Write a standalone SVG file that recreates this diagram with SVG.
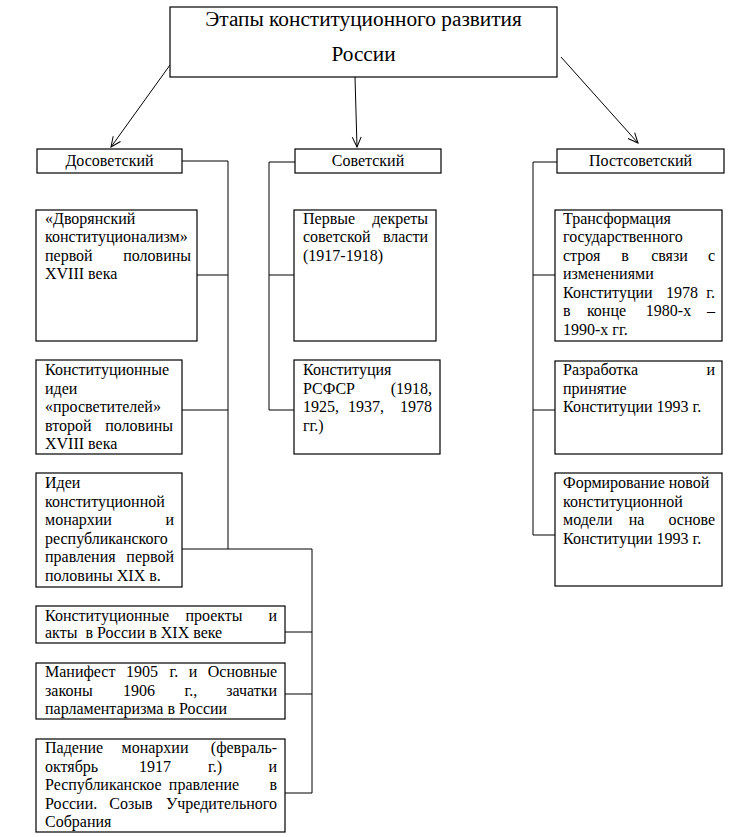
<svg xmlns="http://www.w3.org/2000/svg" width="733" height="837" viewBox="0 0 733 837">
<style>
.bx{fill:#fff;stroke:#000;stroke-width:1.2}
.ln{fill:none;stroke:#000;stroke-width:1}
.t{font-family:"Liberation Serif","Times New Roman",serif;font-size:16px;fill:#000}
.ti{font-family:"Liberation Serif","Times New Roman",serif;font-size:21.3px;fill:#000}
.m{text-anchor:middle}
.e{text-anchor:end}
</style>
<defs>
<marker id="ah" markerUnits="userSpaceOnUse" markerWidth="14" markerHeight="12" viewBox="-12 -6 14 12" refX="0" refY="0" orient="auto">
<path d="M-10,-4.5 L0,0 L-10,4.5" fill="none" stroke="#000" stroke-width="1"/>
</marker>
</defs>
<rect x="0" y="0" width="733" height="837" fill="#fff"/>
<g id="connectors">
<path class="ln" d="M170,65 L111,147" marker-end="url(#ah)"/>
<path class="ln" d="M355,77 L357,147" marker-end="url(#ah)"/>
<path class="ln" d="M561,57 L638,143" marker-end="url(#ah)"/>
<path class="ln" d="M182,161 H228 V549"/>
<path class="ln" d="M197,275 H228"/>
<path class="ln" d="M182,410 H228"/>
<path class="ln" d="M182,549 H312 V793"/>
<path class="ln" d="M285,632 H312"/>
<path class="ln" d="M285,694 H312"/>
<path class="ln" d="M285,793 H312"/>
<path class="ln" d="M295,162 H269 V410 H294"/>
<path class="ln" d="M269,275 H294"/>
<path class="ln" d="M557,162 H533 V535 H555"/>
<path class="ln" d="M533,275 H555"/>
<path class="ln" d="M533,410 H555"/>
</g>
<g id="title">
<rect class="bx" x="170" y="7" width="387" height="70"/>
<text class="ti m" x="363.5" y="26">Этапы конституционного развития</text>
<text class="ti m" x="363.5" y="61">России</text>
</g>
<g id="pre">
<rect class="bx" x="37" y="149" width="145" height="24"/>
<text class="t m" x="109.5" y="166">Досоветский</text>
</g>
<g id="sov">
<rect class="bx" x="295" y="149" width="146" height="24"/>
<text class="t m" x="368" y="166">Советский</text>
</g>
<g id="post">
<rect class="bx" x="557" y="149" width="167" height="24"/>
<text class="t m" x="640.5" y="166">Постсоветский</text>
</g>
<g id="b1">
<rect class="bx" x="36" y="210" width="161" height="131"/>
<text class="t" x="45" y="223.5">«Дворянский</text>
<text class="t" x="45" y="242">конституционализм»</text>
<text class="t" x="45" y="260.5">первой</text><text class="t e" x="191" y="260.5">половины</text>
<text class="t" x="45" y="279">XVIII века</text>
</g>
<g id="b2">
<rect class="bx" x="36" y="360" width="146" height="94"/>
<text class="t" x="45" y="375">Конституционные</text>
<text class="t" x="45" y="393.5">идеи</text>
<text class="t" x="45" y="412">«просветителей»</text>
<text class="t" x="45" y="430.5">второй</text><text class="t e" x="173" y="430.5">половины</text>
<text class="t" x="45" y="449">XVIII века</text>
</g>
<g id="b3">
<rect class="bx" x="36" y="473" width="146" height="114"/>
<text class="t" x="45" y="488">Идеи</text>
<text class="t" x="45" y="506.5">конституционной</text>
<text class="t" x="45" y="525">монархии</text><text class="t e" x="174" y="525">и</text>
<text class="t" x="45" y="543.5">республиканского</text>
<text class="t" x="45" y="562">правления</text><text class="t e" x="174" y="562">первой</text>
<text class="t" x="45" y="580.5">половины XIX в.</text>
</g>
<g id="b4">
<rect class="bx" x="36" y="606" width="249" height="37"/>
<text class="t" x="45" y="620.5">Конституционные</text><text class="t m" x="214" y="620.5">проекты</text><text class="t e" x="277" y="620.5">и</text>
<text class="t" x="45" y="638" xml:space="preserve">акты  в России в XIX веке</text>
</g>
<g id="b5">
<rect class="bx" x="36" y="663" width="249" height="56"/>
<text class="t" x="45" y="677">Манифест</text><text class="t m" x="142" y="677">1905</text><text class="t m" x="174" y="677">г.</text><text class="t m" x="193" y="677">и</text><text class="t e" x="277" y="677">Основные</text>
<text class="t" x="45" y="695.5">законы</text><text class="t m" x="139" y="695.5">1906</text><text class="t m" x="191" y="695.5">г.,</text><text class="t e" x="277" y="695.5">зачатки</text>
<text class="t" x="45" y="714">парламентаризма в России</text>
</g>
<g id="b6">
<rect class="bx" x="36" y="739" width="249" height="93"/>
<text class="t" x="45" y="753">Падение</text><text class="t m" x="155" y="753">монархии</text><text class="t e" x="277" y="753">(февраль-</text>
<text class="t" x="45" y="771.5">октябрь</text><text class="t m" x="155" y="771.5">1917</text><text class="t m" x="215" y="771.5">г.)</text><text class="t e" x="277" y="771.5">и</text>
<text class="t" x="45" y="790">Республиканское</text><text class="t m" x="204" y="790">правление</text><text class="t e" x="277" y="790">в</text>
<text class="t" x="45" y="808.5">России.</text><text class="t m" x="131" y="808.5">Созыв</text><text class="t e" x="277" y="808.5">Учредительного</text>
<text class="t" x="45" y="827">Собрания</text>
</g>
<g id="b7">
<rect class="bx" x="294" y="210" width="142" height="131"/>
<text class="t" x="303" y="223.5">Первые</text><text class="t e" x="428" y="223.5">декреты</text>
<text class="t" x="303" y="242">советской</text><text class="t e" x="428" y="242">власти</text>
<text class="t" x="303" y="260.5">(1917-1918)</text>
</g>
<g id="b8">
<rect class="bx" x="294" y="360" width="146" height="94"/>
<text class="t" x="303" y="375">Конституция</text>
<text class="t" x="303" y="393.5">РСФСР</text><text class="t e" x="432" y="393.5">(1918,</text>
<text class="t" x="303" y="412">1925,</text><text class="t m" x="366" y="412">1937,</text><text class="t e" x="432" y="412">1978</text>
<text class="t" x="303" y="430.5">гг.)</text>
</g>
<g id="b9">
<rect class="bx" x="555" y="210" width="167" height="131"/>
<text class="t" x="563" y="223.5">Трансформация</text>
<text class="t" x="563" y="242">государственного</text>
<text class="t" x="563" y="260.5">строя</text><text class="t m" x="625" y="260.5">в</text><text class="t m" x="669.5" y="260.5">связи</text><text class="t e" x="715" y="260.5">с</text>
<text class="t" x="563" y="279">изменениями</text>
<text class="t" x="563" y="297.5">Конституции</text><text class="t m" x="682" y="297.5">1978</text><text class="t e" x="715" y="297.5">г.</text>
<text class="t" x="563" y="316">в</text><text class="t m" x="606.5" y="316">конце</text><text class="t m" x="668.5" y="316">1980-х</text><text class="t e" x="715" y="316">–</text>
<text class="t" x="563" y="334.5">1990-х гг.</text>
</g>
<g id="b10">
<rect class="bx" x="555" y="361" width="167" height="93"/>
<text class="t" x="563" y="375">Разработка</text><text class="t e" x="715" y="375">и</text>
<text class="t" x="563" y="393.5">принятие</text>
<text class="t" x="563" y="412">Конституции 1993 г.</text>
</g>
<g id="b11">
<rect class="bx" x="555" y="473" width="167" height="113"/>
<text class="t" x="563" y="488">Формирование новой</text>
<text class="t" x="563" y="506.5">конституционной</text>
<text class="t" x="563" y="525">модели</text><text class="t m" x="636.5" y="525">на</text><text class="t e" x="715" y="525">основе</text>
<text class="t" x="563" y="543.5">Конституции 1993 г.</text>
</g>
</svg>
